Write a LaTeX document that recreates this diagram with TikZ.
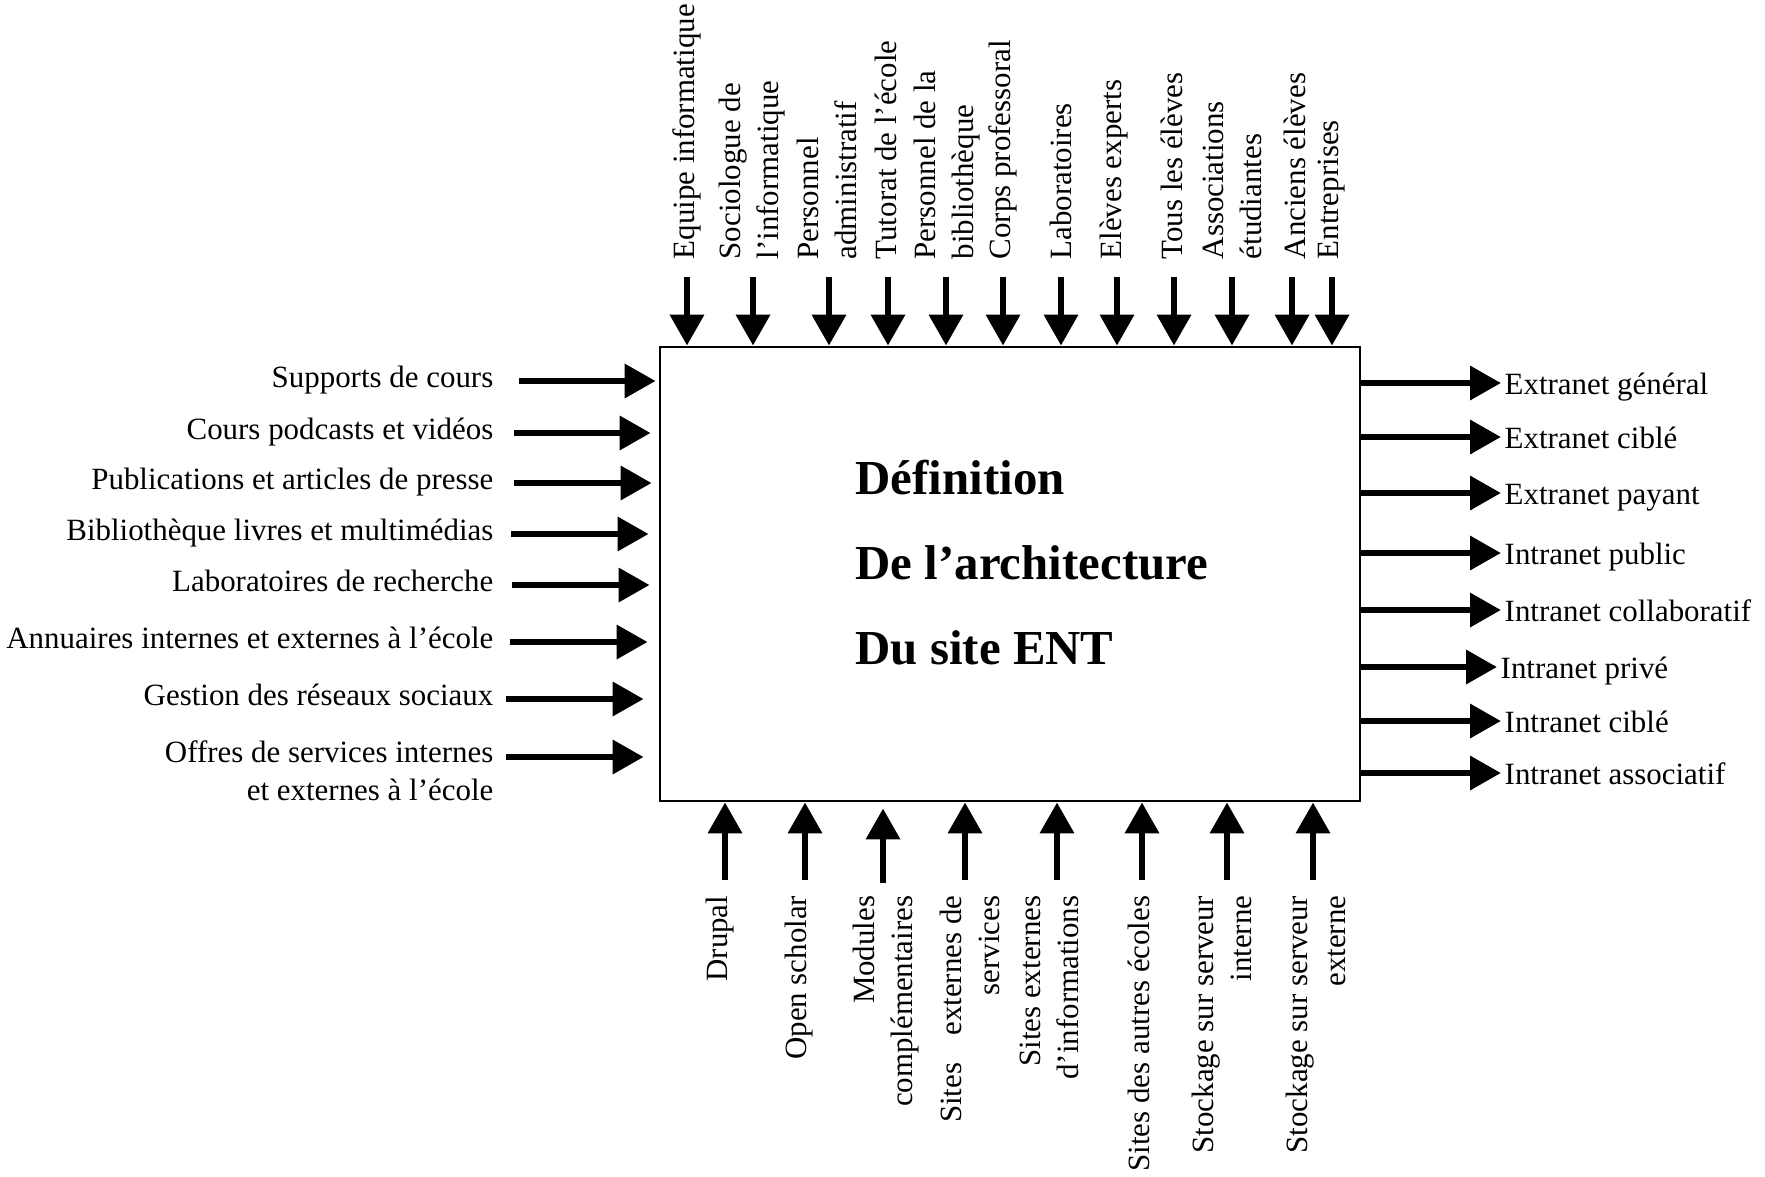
\documentclass[tikz,border=0pt]{standalone}
\usepackage{fontspec}
\setmainfont{Liberation Serif}
\usetikzlibrary{arrows.meta, positioning}

\begin{document}
\begin{tikzpicture}[x=0.1mm, y=-0.1mm, >={Triangle[length=3.1mm, width=3.3mm]},
    lbl/.style={font=\fontsize{8.8}{10.8}\selectfont, inner sep=0pt},
    arr/.style={->, line width=1.9pt},
    blk/.style={draw, line width=0.8pt, minimum width=70mm, minimum height=45.4mm, inner sep=0pt},
    ttl/.style={font=\fontsize{13.9}{24.2}\selectfont\bfseries, inner sep=0pt, align=left}]
\useasboundingbox (0,0) rectangle (1765,1176);

\node[blk] at (1010, 574) (ENT) {};
\node[ttl, anchor=west] at (855, 563) (T) {Définition\\De l’architecture\\Du site ENT};

% entrees (gauche)
\coordinate (fakeI1) at (519, 381);
\coordinate (fakeI2) at (514, 433);
\coordinate (fakeI3) at (514, 483);
\coordinate (fakeI4) at (511, 534);
\coordinate (fakeI5) at (512, 585);
\coordinate (fakeI6) at (510, 642);
\coordinate (fakeI7) at (506, 699);
\coordinate (fakeI8) at (506, 757);
\node[lbl, anchor=base east] at (494, 387) (I1) {Supports de cours};
\node[lbl, anchor=base east] at (494, 439) (I2) {Cours podcasts et vidéos};
\node[lbl, anchor=base east] at (494, 489) (I3) {Publications et articles de presse};
\node[lbl, anchor=base east] at (494, 540) (I4) {Bibliothèque livres et multimédias};
\node[lbl, anchor=base east] at (494, 591) (I5) {Laboratoires de recherche};
\node[lbl, anchor=base east] at (494, 648) (I6) {Annuaires internes et externes à l’école};
\node[lbl, anchor=base east] at (494, 705) (I7) {Gestion des réseaux sociaux};
\node[lbl, anchor=east, align=right] at (494, 771) (I8) {Offres de services internes\\et externes à l’école};
\path (fakeI1) edge[arr, shorten >=0.3mm] (fakeI1 -| ENT.west);
\path (fakeI2) edge[arr, shorten >=0.8mm] (fakeI2 -| ENT.west);
\path (fakeI3) edge[arr, shorten >=0.7mm] (fakeI3 -| ENT.west);
\path (fakeI4) edge[arr, shorten >=1mm] (fakeI4 -| ENT.west);
\path (fakeI5) edge[arr, shorten >=0.9mm] (fakeI5 -| ENT.west);
\path (fakeI6) edge[arr, shorten >=1.1mm] (fakeI6 -| ENT.west);
\path (fakeI7) edge[arr, shorten >=1.5mm] (fakeI7 -| ENT.west);
\path (fakeI8) edge[arr, shorten >=1.5mm] (fakeI8 -| ENT.west);

% sorties (droite)
\coordinate (fakeO1) at (1501, 383);
\coordinate (fakeO2) at (1501, 437);
\coordinate (fakeO3) at (1501, 493);
\coordinate (fakeO4) at (1501, 553);
\coordinate (fakeO5) at (1501, 610);
\coordinate (fakeO6) at (1497, 667);
\coordinate (fakeO7) at (1501, 721);
\coordinate (fakeO8) at (1501, 773);
\path (fakeO1 -| ENT.east) edge[arr] (fakeO1);
\path (fakeO2 -| ENT.east) edge[arr] (fakeO2);
\path (fakeO3 -| ENT.east) edge[arr] (fakeO3);
\path (fakeO4 -| ENT.east) edge[arr] (fakeO4);
\path (fakeO5 -| ENT.east) edge[arr] (fakeO5);
\path (fakeO6 -| ENT.east) edge[arr] (fakeO6);
\path (fakeO7 -| ENT.east) edge[arr] (fakeO7);
\path (fakeO8 -| ENT.east) edge[arr] (fakeO8);
\node[lbl, base right=0.3mm of fakeO1, yshift=-1.1mm] (O1) {Extranet général};
\node[lbl, base right=0.3mm of fakeO2, yshift=-1.1mm] (O2) {Extranet ciblé};
\node[lbl, base right=0.3mm of fakeO3, yshift=-1.1mm] (O3) {Extranet payant};
\node[lbl, base right=0.3mm of fakeO4, yshift=-1.1mm] (O4) {Intranet public};
\node[lbl, base right=0.3mm of fakeO5, yshift=-1.1mm] (O5) {Intranet collaboratif};
\node[lbl, base right=0.3mm of fakeO6, yshift=-1.1mm] (O6) {Intranet privé};
\node[lbl, base right=0.3mm of fakeO7, yshift=-1.1mm] (O7) {Intranet ciblé};
\node[lbl, base right=0.3mm of fakeO8, yshift=-1.1mm] (O8) {Intranet associatif};

% acteurs (haut)
\node[lbl, rotate=90, anchor=west, align=left] at (687, 260) (C1) {Equipe informatique};
\node[lbl, rotate=90, anchor=west, align=left] at (752, 260) (C2) {Sociologue de\\l’informatique};
\node[lbl, rotate=90, anchor=west, align=left] at (827, 260) (C3) {Personnel\\administratif};
\node[lbl, rotate=90, anchor=west, align=left] at (886, 260) (C4) {Tutorat de l’école};
\node[lbl, rotate=90, anchor=west, align=left] at (947, 260) (C5) {Personnel de la\\bibliothèque};
\node[lbl, rotate=90, anchor=west, align=left] at (1003, 260) (C6) {Corps professoral};
\node[lbl, rotate=90, anchor=west, align=left] at (1061, 260) (C7) {Laboratoires};
\node[lbl, rotate=90, anchor=west, align=left] at (1114, 260) (C8) {Elèves experts};
\node[lbl, rotate=90, anchor=west, align=left] at (1172, 260) (C9) {Tous les élèves};
\node[lbl, rotate=90, anchor=west, align=left] at (1232, 260) (C10) {Associations\\étudiantes};
\node[lbl, rotate=90, anchor=west, align=left] at (1295, 260) (C11) {Anciens élèves};
\node[lbl, rotate=90, anchor=west, align=left] at (1332, 260) (C12) {Entreprises};
\coordinate (fakeC1) at (687, 277);
\coordinate (fakeC2) at (753, 277);
\coordinate (fakeC3) at (829, 277);
\coordinate (fakeC4) at (888, 277);
\coordinate (fakeC5) at (946, 277);
\coordinate (fakeC6) at (1003, 277);
\coordinate (fakeC7) at (1061, 277);
\coordinate (fakeC8) at (1117, 277);
\coordinate (fakeC9) at (1174, 277);
\coordinate (fakeC10) at (1232, 277);
\coordinate (fakeC11) at (1292, 277);
\coordinate (fakeC12) at (1332, 277);
\path (fakeC1) edge[arr] (fakeC1 |- ENT.north);
\path (fakeC2) edge[arr] (fakeC2 |- ENT.north);
\path (fakeC3) edge[arr] (fakeC3 |- ENT.north);
\path (fakeC4) edge[arr] (fakeC4 |- ENT.north);
\path (fakeC5) edge[arr] (fakeC5 |- ENT.north);
\path (fakeC6) edge[arr] (fakeC6 |- ENT.north);
\path (fakeC7) edge[arr] (fakeC7 |- ENT.north);
\path (fakeC8) edge[arr] (fakeC8 |- ENT.north);
\path (fakeC9) edge[arr] (fakeC9 |- ENT.north);
\path (fakeC10) edge[arr] (fakeC10 |- ENT.north);
\path (fakeC11) edge[arr] (fakeC11 |- ENT.north);
\path (fakeC12) edge[arr] (fakeC12 |- ENT.north);

% supports (bas)
\coordinate (fakeM1) at (725, 880);
\coordinate (fakeM2) at (805, 880);
\coordinate (fakeM3) at (883, 883);
\coordinate (fakeM4) at (965, 880);
\coordinate (fakeM5) at (1057, 880);
\coordinate (fakeM6) at (1142, 880);
\coordinate (fakeM7) at (1227, 880);
\coordinate (fakeM8) at (1313, 880);
\path (fakeM1) edge[arr] (fakeM1 |- ENT.south);
\path (fakeM2) edge[arr] (fakeM2 |- ENT.south);
\path (fakeM3) edge[arr, shorten >=0.6mm] (fakeM3 |- ENT.south);
\path (fakeM4) edge[arr] (fakeM4 |- ENT.south);
\path (fakeM5) edge[arr] (fakeM5 |- ENT.south);
\path (fakeM6) edge[arr] (fakeM6 |- ENT.south);
\path (fakeM7) edge[arr] (fakeM7 |- ENT.south);
\path (fakeM8) edge[arr] (fakeM8 |- ENT.south);
\node[lbl, rotate=90, anchor=east, align=right] at (720, 895) (M1) {Drupal};
\node[lbl, rotate=90, anchor=east, align=right] at (799, 895) (M2) {Open scholar};
\node[lbl, rotate=90, anchor=east, align=right] at (886, 895) (M3) {Modules\\complémentaires};
\node[lbl, rotate=90, anchor=east, align=right] at (970, 895) (M4) {Sites\hspace{2.7mm}externes de\\services};
\node[lbl, rotate=90, anchor=east, align=right] at (1049, 895) (M5) {Sites externes\\d’informations};
\node[lbl, rotate=90, anchor=east, align=right] at (1139, 895) (M6) {Sites des autres écoles};
\node[lbl, rotate=90, anchor=east, align=right] at (1222, 895) (M7) {Stockage sur serveur\\interne};
\node[lbl, rotate=90, anchor=east, align=right] at (1316, 895) (M8) {Stockage sur serveur\\externe};
\end{tikzpicture}
\end{document}
